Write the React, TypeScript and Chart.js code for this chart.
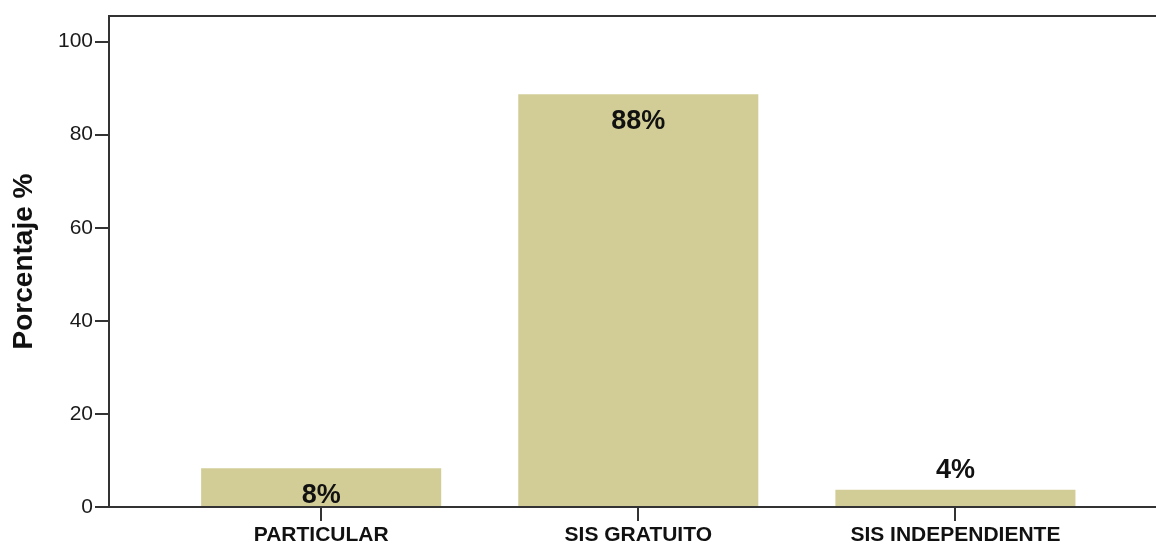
import React, { useEffect, useRef } from "react";
import { Chart, registerables } from "chart.js";

Chart.register(...registerables);

const categories = ["PARTICULAR", "SIS GRATUITO", "SIS INDEPENDIENTE"];
const values = [8.3, 88.7, 3.7];
const percentLabels = ["8%", "88%", "4%"];
const yTickValues = [0, 20, 40, 60, 80, 100];
const yTitle = "Porcentaje %";

const AXIS_COLOR = "#333333";
const BAR_COLOR = "#D2CD96";
const FONT = "Arial, 'Liberation Sans', sans-serif";

const labelPlugin = {
  id: "barLabels",
  afterDatasetsDraw(chart: any) {
    const ctx = chart.ctx;
    const meta = chart.getDatasetMeta(0);
    ctx.save();
    ctx.font = `bold 27px ${FONT}`;
    ctx.fillStyle = "#111111";
    ctx.textAlign = "center";
    ctx.textBaseline = "middle";
    meta.data.forEach((bar: any, i: number) => {
      const h = bar.base - bar.y;
      const y = h > 35 ? bar.y + 27 : bar.y - 19;
      ctx.fillText(percentLabels[i], bar.x, y);
    });
    ctx.restore();
  },
};

const topBorderPlugin = {
  id: "topBorder",
  afterDraw(chart: any) {
    const { ctx, chartArea } = chart;
    ctx.save();
    ctx.strokeStyle = AXIS_COLOR;
    ctx.lineWidth = 2;
    ctx.beginPath();
    ctx.moveTo(chartArea.left - 1, chartArea.top);
    ctx.lineTo(chart.width, chartArea.top);
    ctx.stroke();
    ctx.restore();
  },
};

export default function App() {
  const canvasRef = useRef<HTMLCanvasElement | null>(null);

  useEffect(() => {
    if (!canvasRef.current) return;
    const chart = new Chart(canvasRef.current, {
      type: "bar",
      data: {
        datasets: [
          {
            data: values.map((v, i) => ({ x: i + 1, y: v })),
            backgroundColor: BAR_COLOR,
            borderWidth: 0,
            barPercentage: 0.757,
            categoryPercentage: 1,
          },
        ],
      },
      options: {
        responsive: false,
        animation: false,
        layout: { padding: { top: 16, right: 0, left: 0, bottom: 0 } },
        plugins: {
          legend: { display: false },
          tooltip: { enabled: false },
        },
        scales: {
          x: {
            type: "linear",
            offset: false,
            min: 0.331,
            max: 3.6325,
            grid: {
              offset: false,
              drawOnChartArea: false,
              drawTicks: true,
              tickLength: 14,
              color: AXIS_COLOR,
              lineWidth: 2,
            },
            border: { display: true, color: AXIS_COLOR, width: 2 },
            afterBuildTicks: (scale: any) => {
              scale.ticks = categories.map((_, i) => ({ value: i + 1 }));
            },
            afterFit: (scale: any) => {
              scale.height = 37;
            },
            ticks: {
              autoSkip: false,
              maxRotation: 0,
              padding: 2,
              color: "#111111",
              font: { family: FONT, size: 21, weight: "bold" },
              callback: (value: any) => categories[Math.round(value) - 1] ?? "",
            },
          },
          y: {
            min: 0,
            max: 105.5,
            grid: {
              drawOnChartArea: false,
              drawTicks: true,
              tickLength: 14,
              color: AXIS_COLOR,
              lineWidth: 2,
            },
            border: { display: true, color: AXIS_COLOR, width: 2 },
            afterBuildTicks: (scale: any) => {
              scale.ticks = yTickValues.map((v) => ({ value: v }));
            },
            afterFit: (scale: any) => {
              scale.width = 109;
            },
            ticks: {
              padding: 2,
              color: "#1a1a1a",
              font: { family: FONT, size: 21 },
            },
            title: {
              display: true,
              text: yTitle,
              color: "#111111",
              padding: { top: 7, bottom: 0 },
              font: { family: FONT, size: 28, weight: "bold" },
            },
          },
        },
      },
      plugins: [labelPlugin, topBorderPlugin],
    } as any);
    return () => chart.destroy();
  }, []);

  return (
    <div style={{ position: "absolute", left: 0, top: 0, width: 1156, height: 544, background: "#ffffff" }}>
      <canvas ref={canvasRef} width={1156} height={544} style={{ display: "block" }} />
    </div>
  );
}
